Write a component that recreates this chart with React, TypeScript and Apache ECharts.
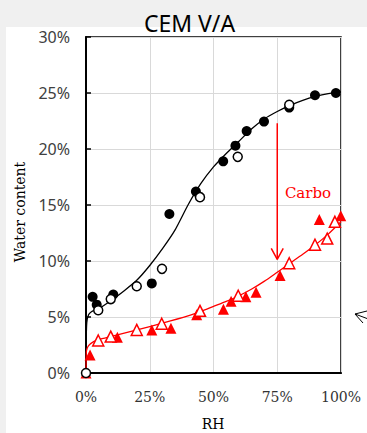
import React, { useEffect, useRef } from "react";
import * as echarts from "echarts";

// Tick settings
const xTicks = [0, 25, 50, 75, 100];
const yTicks = [0, 5, 10, 15, 20, 25, 30];

// CEM V/A, before carbonation (filled / open circles)
const cemFilled: number[][] = [
  [2.6, 6.8], [4.2, 6.1], [10.7, 7.0], [25.8, 8.0], [32.7, 14.2], [43.1, 16.2],
  [53.8, 18.9], [58.6, 20.3], [63.0, 21.6], [69.8, 22.45], [79.7, 23.7], [89.8, 24.8], [98.0, 25.0],
];
const cemOpen: number[][] = [
  [0, 0], [4.8, 5.6], [9.7, 6.6], [19.9, 7.75], [29.8, 9.3], [44.7, 15.7], [59.5, 19.3], [79.7, 23.95],
];
// Carbonated (filled / open triangles)
const carboFilled: number[][] = [
  [0, 0], [1.6, 1.6], [12.3, 3.2], [25.8, 3.85], [33.3, 4.0], [43.4, 5.2], [53.9, 5.7],
  [56.9, 6.4], [62.7, 6.8], [66.7, 7.2], [76.1, 8.7], [91.5, 13.7], [99.9, 14.05],
];
const carboOpen: number[][] = [
  [4.8, 2.9], [9.7, 3.25], [19.9, 3.85], [29.7, 4.4], [44.7, 5.55], [59.7, 6.9],
  [79.7, 9.8], [89.8, 11.45], [94.6, 12.0], [97.6, 13.5],
];
// Fitted curves
const cemFit: number[][] = [
  [0, 0], [0.05, 2.5], [0.3, 4.5], [1, 5.2], [2, 5.45], [5, 5.75], [10, 6.5], [15, 7.35],
  [20, 8.3], [25, 9.6], [30, 11.1], [35, 12.8], [40, 15.0], [45, 16.9], [50, 18.4], [55, 19.6],
  [60, 20.7], [65, 21.8], [70, 22.7], [75, 23.35], [80, 23.9], [85, 24.35], [90, 24.7], [95, 24.95], [100, 25.1],
];
const carboFit: number[][] = [
  [0, 0], [0.05, 1.2], [0.2, 2.0], [1, 2.45], [3, 2.8], [5, 2.98], [10, 3.27], [20, 3.85],
  [30, 4.45], [40, 5.1], [45, 5.5], [50, 5.95], [55, 6.4], [60, 6.9], [65, 7.5], [70, 8.2],
  [75, 9.0], [80, 9.8], [85, 10.6], [90, 11.45], [95, 12.4], [100, 13.5],
];
// Carbonation arrow (at RH 75%)
const arrowShaft: number[][] = [[75, 22.3], [75, 10.15]];
const arrowHead: number[][] = [[72.65, 11.13], [75, 10.15], [77.35, 11.13]];

const titleText = "CEM V/A";
const xName = "RH";
const yName = "Water content";
const annotation = "Carbo";

export default function App() {
  const ref = useRef<HTMLDivElement>(null);
  useEffect(() => {
    document.body.style.margin = "0";
    const chart = echarts.init(ref.current!, null, { renderer: "svg" });
    const red = "#ff0000";
    chart.setOption({
      animation: false,
      backgroundColor: "#f0f0f0",
      grid: {
        left: 86, right: 26, top: 37, bottom: 60,
        show: true, borderColor: "#000", borderWidth: 1.5, backgroundColor: "#fff",
      },
      graphic: [
        { type: "rect", z: -10, shape: { x: 6, y: 27, width: 361, height: 406 }, style: { fill: "#fff" } },
        {
          type: "text", x: 189.5, y: 23,
          style: { text: titleText, font: '23px "Noto Sans"', fill: "#000", textAlign: "center", textVerticalAlign: "middle" },
        },
        {
          type: "text", x: 20, y: 212, rotation: Math.PI / 2,
          style: { text: yName, font: '14px "DejaVu Serif"', fill: "#000", textAlign: "center", textVerticalAlign: "middle" },
        },
        {
          type: "text", x: 213, y: 424,
          style: { text: xName, font: '14px "DejaVu Serif"', fill: "#000", textAlign: "center", textVerticalAlign: "middle" },
        },
        {
          type: "text", x: 308, y: 193,
          style: { text: annotation, font: '15px "DejaVu Serif"', fill: red, textAlign: "center", textVerticalAlign: "middle" },
        },
        { type: "line", shape: { x1: 355, y1: 314, x2: 367, y2: 311 }, style: { stroke: "#000", lineWidth: 1 } },
        { type: "line", shape: { x1: 355, y1: 314, x2: 363, y2: 323 }, style: { stroke: "#000", lineWidth: 1 } },
        { type: "line", shape: { x1: 355, y1: 314, x2: 367, y2: 318.5 }, style: { stroke: "#000", lineWidth: 1 } },
      ],
      xAxis: {
        type: "value", min: xTicks[0], max: xTicks[xTicks.length - 1], interval: 25,
        axisLine: { show: true, lineStyle: { color: "#000", width: 2 } },
        axisTick: { show: false },
        splitLine: { show: true, lineStyle: { color: "#d9d9d9", width: 1 } },
        axisLabel: {
          formatter: "{value}%", color: "#333", fontFamily: "DejaVu Serif", fontSize: 14, margin: 17,
        },
      },
      yAxis: {
        type: "value", min: yTicks[0], max: yTicks[yTicks.length - 1], interval: 5,
        axisLine: { show: true, lineStyle: { color: "#000", width: 2 } },
        axisTick: { show: true, inside: true, length: 5, lineStyle: { color: "#000", width: 1.5 } },
        splitLine: { show: true, lineStyle: { color: "#d9d9d9", width: 1 } },
        axisLabel: {
          formatter: "{value}%", color: "#404040", fontFamily: "Noto Sans", fontSize: 16, margin: 16,
        },
      },
      series: [
        {
          type: "line", data: cemFit, symbol: "none", smooth: 0.2,
          lineStyle: { color: "#000", width: 1.3 }, z: 2,
        },
        {
          type: "line", data: carboFit, symbol: "none", smooth: 0.2,
          lineStyle: { color: red, width: 1.3 }, z: 2,
        },
        {
          type: "line", data: arrowShaft, symbol: "none",
          lineStyle: { color: red, width: 1.5 }, z: 2,
        },
        {
          type: "line", data: arrowHead, symbol: "none",
          lineStyle: { color: red, width: 1.5 }, z: 2,
        },
        {
          type: "scatter", data: carboFilled, symbol: "triangle", symbolSize: 11,
          itemStyle: { color: red, opacity: 1 }, z: 3,
        },
        {
          type: "scatter", data: carboOpen, symbol: "triangle", symbolSize: 11,
          itemStyle: { color: "#fff", borderColor: red, borderWidth: 1.5, opacity: 1 }, z: 3,
        },
        {
          type: "scatter", data: cemFilled, symbol: "circle", symbolSize: 10,
          itemStyle: { color: "#000", opacity: 1 }, z: 4,
        },
        {
          type: "scatter", data: cemOpen, symbol: "circle", symbolSize: 9,
          itemStyle: { color: "#fff", borderColor: "#000", borderWidth: 1.5, opacity: 1 }, z: 4,
        },
      ],
    });
    return () => chart.dispose();
  }, []);
  return <div ref={ref} style={{ width: 367, height: 433 }} />;
}
